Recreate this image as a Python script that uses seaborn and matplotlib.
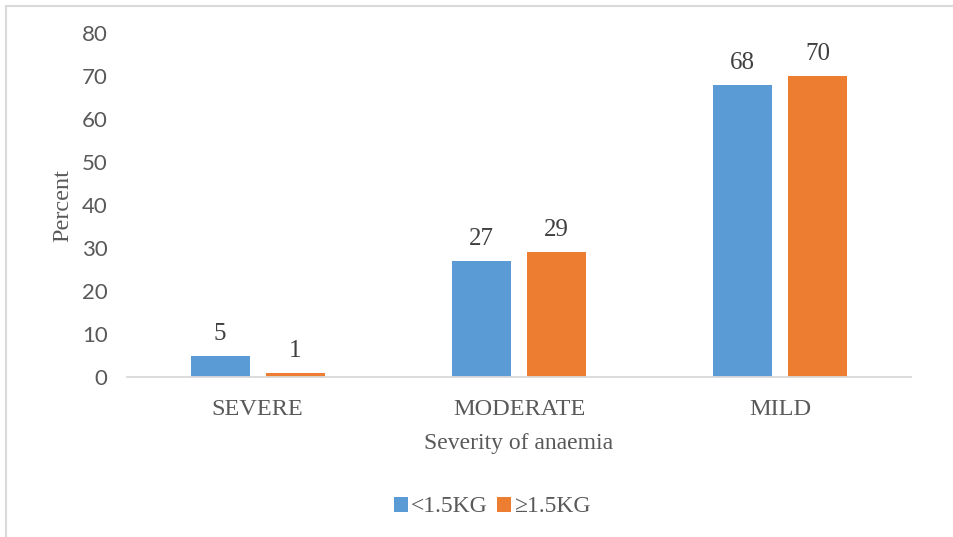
import matplotlib
matplotlib.use("Agg")
import matplotlib.pyplot as plt
from matplotlib.lines import Line2D
from matplotlib.patches import Patch
import pandas as pd
import seaborn as sns

# Data
categories = ["SEVERE", "MODERATE", "MILD"]
groups = ["<1.5KG", "\u22651.5KG"]
low_weight = [5, 27, 68]
normal_weight = [1, 29, 70]
y_ticks = [0, 10, 20, 30, 40, 50, 60, 70, 80]

colors = ["#5B9BD5", "#ED7D31"]
serif = "Liberation Serif"
sans = "Lato"

df = pd.DataFrame({
    "Severity": categories * 2,
    "Group": [groups[0]] * len(categories) + [groups[1]] * len(categories),
    "Percent": low_weight + normal_weight,
})

sns.set_theme(style="white")
fig = plt.figure(figsize=(9.54, 5.37), dpi=100)
ax = fig.add_axes([127 / 954, 1 - 377 / 537, (911 - 127) / 954, (377 - 33) / 537])

sns.barplot(data=df, x="Severity", y="Percent", hue="Group", order=categories,
            hue_order=groups, palette=colors, width=0.574, gap=0.213,
            saturation=1, ax=ax, legend=False, edgecolor="none")

ax.set_xlim(-0.5, 2.5)
ax.set_ylim(0, 80)
ax.set_yticks(y_ticks)
ax.set_yticklabels([str(t) for t in y_ticks], fontfamily=sans, fontsize=16,
                   color="#595959")
ax.tick_params(axis="y", length=0, pad=14)
ax.tick_params(axis="x", length=0, pad=16)
for lbl in ax.get_xticklabels():
    lbl.set_fontfamily(serif)
    lbl.set_fontsize(17.5)
    lbl.set_color("#595959")

for side in ["left", "right", "top"]:
    ax.spines[side].set_visible(False)
ax.spines["bottom"].set_color("#D9D9D9")
ax.spines["bottom"].set_linewidth(1.3)
ax.grid(False)

# Value labels above each bar
for container in ax.containers:
    for bar in container:
        h = bar.get_height()
        ax.annotate(f"{h:g}", (bar.get_x() + bar.get_width() / 2, h),
                    xytext=(0, 11.5), textcoords="offset points",
                    ha="center", va="baseline", fontfamily=serif,
                    fontsize=18, color="#404040")

ax.set_xlabel("Severity of anaemia", fontfamily=serif, fontsize=17,
              color="#595959", labelpad=9)
ax.set_ylabel("Percent", fontfamily=serif, fontsize=17.5,
              color="#595959", labelpad=6)

# Legend below the plot
handles = [Patch(facecolor=c, edgecolor="none") for c in colors]
fig.legend(handles, groups, loc="center", bbox_to_anchor=(492 / 954, 1 - 507 / 537),
           ncol=2, frameon=False, handlelength=0.6, handleheight=0.6,
           handletextpad=0.12, columnspacing=0.4,
           prop={"family": serif, "size": 17}, labelcolor="#595959")

# Chart border (left and top edges)
fig.add_artist(Line2D([6.5 / 954, 6.5 / 954], [0, 1 - 5.5 / 537],
                      transform=fig.transFigure, color="#D9D9D9", lw=1.5))
fig.add_artist(Line2D([6.5 / 954, 1], [1 - 5.5 / 537, 1 - 5.5 / 537],
                      transform=fig.transFigure, color="#D9D9D9", lw=1.5))

fig.savefig("out.png", dpi=100)
